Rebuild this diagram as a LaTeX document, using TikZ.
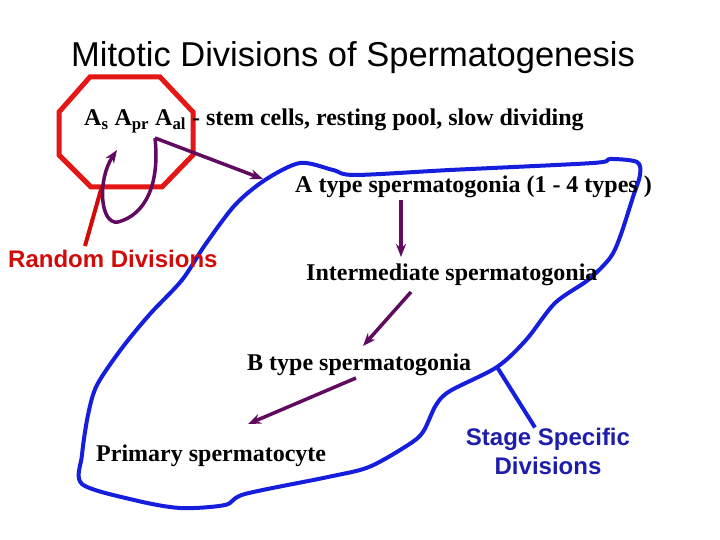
\documentclass[tikz,border=0pt]{standalone}
\usepackage{fontspec}
\setmainfont{Liberation Serif}
\newfontfamily\arialf{Liberation Sans}
\usetikzlibrary{arrows.meta}
\definecolor{octred}{RGB}{228,22,22}
\definecolor{rdred}{RGB}{210,10,10}
\definecolor{purp}{RGB}{96,10,96}
\definecolor{curveblue}{RGB}{20,30,220}
\definecolor{ssblue}{RGB}{30,30,170}
\tikzset{
  lbl/.style={inner sep=0pt, font=\fontsize{24}{26}\selectfont\bfseries},
  flow/.style={draw=purp, line width=3.5pt, -{Stealth[length=13pt,width=10pt]}},
}
\begin{document}
\begin{tikzpicture}[x=1pt,y=-1pt]
\useasboundingbox (0,0) rectangle (720,540);
\fill[white] (0,0) rectangle (720,540);
% title
\node[inner sep=0pt, font=\arialf\fontsize{34.5}{36}\selectfont] (title) at (353,58) {Mitotic Divisions of Spermatogenesis};
% octagon
\draw[octred, line width=5pt, line join=miter] (90,77) -- (160,77) -- (193,112) -- (193,155) -- (162,187) -- (91,187) -- (59,155) -- (59,112) -- cycle;
% blue closed curve
\draw[curveblue, line width=4pt, line join=round]
  plot[smooth cycle, tension=0.5] coordinates {
  (300,163) (333,170) (355,175) (450,170) (593,163) (610,159) (637,162) (640,175)
  (633,197) (620,237) (610,258) (588,280) (555,303) (526,340) (497,367) (450,391)
  (436,405) (423,432) (408,445) (369,467) (328,477) (245,494) (225,505) (180,508)
  (134,500) (82,484) (82,455) (88,415) (97,385) (122,348) (150,314) (182,280)
  (205,245) (235,205) (265,180)};
% labels
\node[lbl, anchor=west] (stem) at (84,121) {A\textsubscript{s} A\textsubscript{pr} A\textsubscript{al} - stem cells, resting pool, slow dividing};
\node[lbl, anchor=west] (atype) at (295,187) {A type spermatogonia (1 - 4 types )};
\node[lbl, anchor=west] (inter) at (306,275) {Intermediate spermatogonia};
\node[lbl, anchor=west] (btype) at (247,365) {B type spermatogonia};
\node[lbl, anchor=west] (prim) at (96,456) {Primary spermatocyte};
\node[inner sep=0pt, anchor=west, text=rdred, font=\arialf\fontsize{24}{26}\selectfont\bfseries] (random) at (8,259) {Random Divisions};
\node[inner sep=0pt, align=center, text=ssblue, font=\arialf\fontsize{24}{29}\selectfont\bfseries] (stage) at (548,451) {Stage Specific\\Divisions};
% connector end points
\coordinate (aal) at (155,138);
\coordinate (rtip) at (117,150);
\coordinate (redtop) at (102,186);
\coordinate (stageattach) at (497,367);
% red line
\draw[rdred, line width=4pt] (random.north -| 85,0) ++(0,-4) -- (redtop);
% purple hook arrow and curled arrow
\draw[flow] (aal) -- (263,179);
\draw[purp, line width=3.5pt, -{Stealth[length=13pt,width=10pt]}] (aal) .. controls (160,185) and (145,215) .. (118,222) .. controls (100,225) and (97,180) .. (rtip);
% flow arrows
\draw[flow] (atype.south -| 401,0) ++(0,2) -- (401,257);
\draw[flow] (411,292) -- (363,346);
\draw[flow] (356,378) -- (248,424);
% stage line
\draw[curveblue, line width=4pt] (stageattach) -- (stage.north -| 535,0) ++(0,-4);
\end{tikzpicture}
\end{document}
